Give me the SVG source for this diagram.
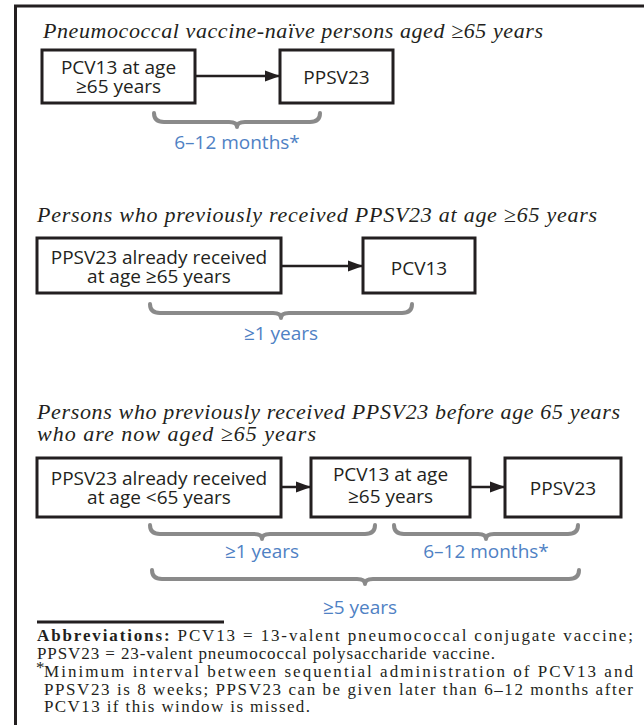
<svg xmlns="http://www.w3.org/2000/svg" width="644" height="725" viewBox="0 0 644 725">
<style>
.box{fill:#fff;stroke:#231f20;stroke-width:3}
.bt{font-family:"Open Sans","Liberation Sans",sans-serif;font-size:19px;fill:#231f20;text-anchor:middle}
.ttl{font-family:"Liberation Serif",serif;font-style:italic;font-size:22px;fill:#231f20}
.lbl{font-family:"Open Sans","Liberation Sans",sans-serif;font-size:19px;fill:#4f81c4;text-anchor:middle}
.brace{fill:none;stroke:#8a8a8a;stroke-width:4;stroke-linecap:round;stroke-linejoin:round}
.conn{stroke:#231f20;stroke-width:2.5;fill:none}
.fn{font-family:"Liberation Serif",serif;font-size:17px;fill:#231f20}
</style>
<defs>
<marker id="ah" markerUnits="userSpaceOnUse" markerWidth="16" markerHeight="12" refX="15" refY="6" orient="auto">
<path d="M0,0.5 L15,6 L0,11.5 Z" fill="#231f20"/>
</marker>
</defs>
<rect width="644" height="725" fill="#fff"/>
<path d="M15.5,725 L15.5,6 L644,6" fill="none" stroke="#231f20" stroke-width="3"/>

<text class="ttl" x="43" y="38" textLength="500" lengthAdjust="spacing">Pneumococcal vaccine-naïve persons aged ≥65 years</text>
<text class="ttl" x="37" y="222" textLength="560" lengthAdjust="spacing">Persons who previously received PPSV23 at age ≥65 years</text>
<text class="ttl" x="37" y="419" textLength="583" lengthAdjust="spacing">Persons who previously received PPSV23 before age 65 years</text>
<text class="ttl" x="37" y="441" textLength="279" lengthAdjust="spacing">who are now aged ≥65 years</text>

<g id="connectors">
<line class="conn" x1="195" y1="76" x2="280" y2="76" marker-end="url(#ah)"/>
<line class="conn" x1="281" y1="266" x2="363" y2="266" marker-end="url(#ah)"/>
<line class="conn" x1="281" y1="487" x2="311" y2="487" marker-end="url(#ah)"/>
<line class="conn" x1="470" y1="487" x2="505" y2="487" marker-end="url(#ah)"/>
</g>

<g id="n1a"><rect class="box" x="42" y="50" width="153" height="53"/><text class="bt" x="118.5" y="74">PCV13 at age<tspan x="118.5" dy="19">≥65 years</tspan></text></g>
<g id="n1b"><rect class="box" x="280" y="50" width="113" height="53"/><text class="bt" x="336.5" y="84">PPSV23</text></g>

<g id="n2a"><rect class="box" x="37" y="238" width="244" height="55"/><text class="bt" x="159" y="264">PPSV23 already received<tspan x="159" dy="19">at age ≥65 years</tspan></text></g>
<g id="n2b"><rect class="box" x="363" y="238" width="112" height="55"/><text class="bt" x="419" y="275">PCV13</text></g>

<g id="n3a"><rect class="box" x="37" y="458" width="244" height="59"/><text class="bt" x="159" y="485">PPSV23 already received<tspan x="159" dy="19">at age &lt;65 years</tspan></text></g>
<g id="n3b"><rect class="box" x="311" y="458" width="159" height="59"/><text class="bt" x="390.5" y="481">PCV13 at age<tspan x="390.5" dy="22">≥65 years</tspan></text></g>
<g id="n3c"><rect class="box" x="505" y="458" width="116" height="59"/><text class="bt" x="563" y="495">PPSV23</text></g>

<g id="braces">
<path class="brace" d="M154,113 Q154,122 164,122 L229,122 Q237,122 237,127 Q237,122 245,122 L310,122 Q320,122 320,113"/>
<path class="brace" d="M150,304 Q150,313 160,313 L273,313 Q281,313 281,318 Q281,313 289,313 L402,313 Q412,313 412,304"/>
<path class="brace" d="M150,525 Q150,534 160,534 L254,534 Q262,534 262,539 Q262,534 270,534 L365,534 Q375,534 375,525"/>
<path class="brace" d="M394,525 Q394,534 404,534 L478,534 Q486,534 486,539 Q486,534 494,534 L568,534 Q578,534 578,525"/>
<path class="brace" d="M152,570 Q152,579 162,579 L357,579 Q365,579 365,584 Q365,579 373,579 L569,579 Q579,579 579,570"/>
</g>
<text class="lbl" x="237" y="149">6–12 months*</text>
<text class="lbl" x="281" y="340">≥1 years</text>
<text class="lbl" x="262" y="558">≥1 years</text>
<text class="lbl" x="486" y="558">6–12 months*</text>
<text class="lbl" x="360" y="614">≥5 years</text>

<line x1="37" y1="622" x2="224" y2="622" stroke="#231f20" stroke-width="3"/>
<text class="fn" x="37" y="641" textLength="596" lengthAdjust="spacing"><tspan font-weight="bold">Abbreviations:</tspan> PCV13 = 13-valent pneumococcal conjugate vaccine;</text>
<text class="fn" x="37" y="659" textLength="458" lengthAdjust="spacing">PPSV23 = 23-valent pneumococcal polysaccharide vaccine.</text>
<text class="fn" x="36" y="673" font-size="11">*</text>
<text class="fn" x="44" y="677" textLength="589" lengthAdjust="spacing">Minimum interval between sequential administration of PCV13 and</text>
<text class="fn" x="44" y="695" textLength="589" lengthAdjust="spacing">PPSV23 is 8 weeks; PPSV23 can be given later than 6–12 months after</text>
<text class="fn" x="44" y="712" textLength="266" lengthAdjust="spacing">PCV13 if this window is missed.</text>
</svg>
